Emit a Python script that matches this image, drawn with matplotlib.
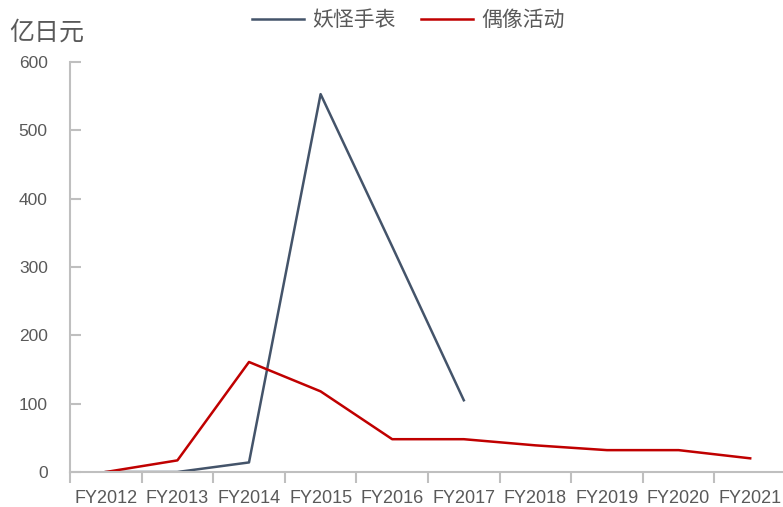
import matplotlib.pyplot as plt
import numpy as np

years = ['FY2012', 'FY2013', 'FY2014', 'FY2015', 'FY2016',
         'FY2017', 'FY2018', 'FY2019', 'FY2020', 'FY2021']
yokai_watch = [0, 0, 14, 553, 330, 105]
idol_events = [0, 17, 161, 118, 48, 48, 39, 32, 32, 20]

plt.rcParams['font.family'] = ['Liberation Sans', 'DejaVu Sans']
cjk = ['Noto Sans CJK SC', 'DejaVu Sans']

fig = plt.figure(figsize=(7.83, 5.07), dpi=100)
ax = fig.add_axes([70 / 783, 35 / 507, 716 / 783, 410 / 507])

x = np.arange(len(years))
ax.plot(x[:len(yokai_watch)], yokai_watch, color='#44546a', linewidth=1.8, label='妖怪手表')
ax.plot(x, idol_events, color='#c00000', linewidth=1.8, label='偶像活动')

ax.set_xlim(-0.5, len(years) - 0.5)
ax.set_ylim(0, 600)
ax.set_yticks(range(0, 601, 100))
ax.set_xticks(x)
ax.set_xticklabels(years)
ax.set_xticks(np.arange(-0.5, len(years)), minor=True)
ax.tick_params(axis='x', which='major', length=0, pad=13, labelsize=13, labelcolor='#595959')
ax.tick_params(axis='x', which='minor', length=8, width=1.5, color='#bfbfbf', direction='out')
ax.tick_params(axis='y', length=8, width=1.5, color='#bfbfbf', direction='in',
               pad=16, labelsize=12.5, labelcolor='#595959')

for s in ['top', 'right']:
    ax.spines[s].set_visible(False)
for s in ['left', 'bottom']:
    ax.spines[s].set_color('#bfbfbf')
    ax.spines[s].set_linewidth(1.5)

fig.text(9 / 783, 1 - 33 / 507, '亿日元', family=cjk, fontsize=18, color='#595959', va='center')

leg = ax.legend(loc='center', bbox_to_anchor=(408 / 783, 1 - 20 / 507),
                bbox_transform=fig.transFigure, ncol=2, frameon=False,
                prop={'family': cjk, 'size': 15}, handlelength=2.5,
                columnspacing=1.2, handletextpad=0.4)
for t in leg.get_texts():
    t.set_color('#595959')

fig.savefig('out.png', dpi=100)
